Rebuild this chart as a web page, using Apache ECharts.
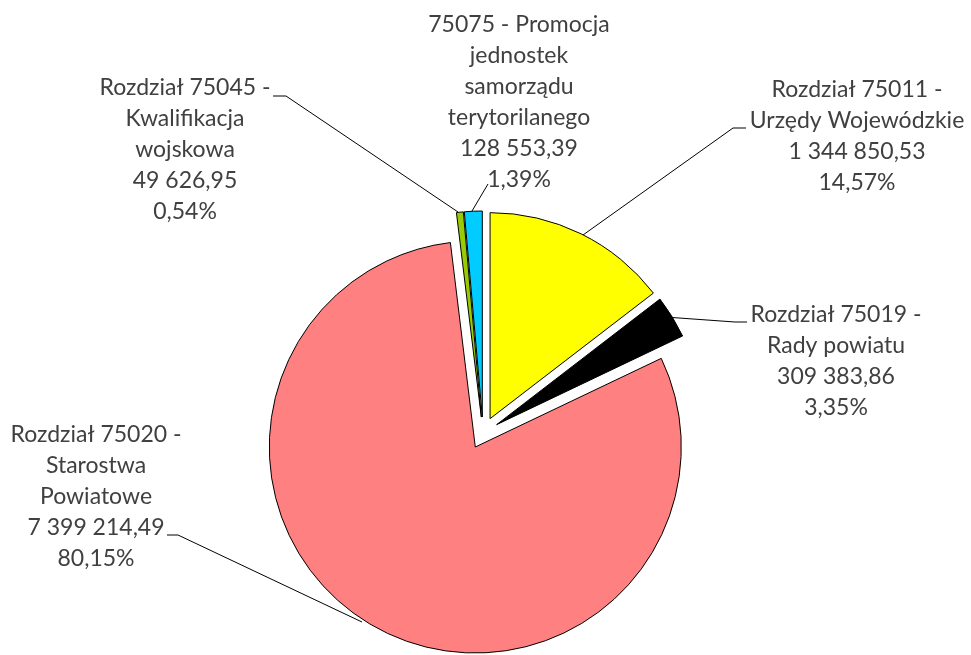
<!DOCTYPE html>
<html>
<head>
<meta charset="utf-8">
<script src="https://cdn.jsdelivr.net/npm/echarts@6/dist/echarts.min.js"></script>
<style>
  html, body { margin: 0; padding: 0; background: #fff; }
  #chart { width: 971px; height: 655px; }
</style>
</head>
<body>
<div id="chart"></div>
<script>
// data
const categories = [
  'Rozdział 75011 -\nUrzędy Wojewódzkie',
  'Rozdział 75019 -\nRady powiatu',
  'Rozdział 75020 -\nStarostwa\nPowiatowe',
  'Rozdział 75045 -\nKwalifikacja\nwojskowa',
  '75075 - Promocja\njednostek\nsamorządu\nterytorilanego'
];
const values = [1344850.53, 309383.86, 7399214.49, 49626.95, 128553.39];
const colors = ['#ffff00', '#000000', '#ff8080', '#99cc00', '#00ccff'];

// label placement (block centre) and leader lines
const labelPos = [[857, 136], [836, 361], [96, 497], [185, 150], [519, 102]];
const leaderLines = [
  [[583, 235], [733, 128], [746, 128]],
  [[665, 317], [735, 322], [747, 322]],
  [[362, 622], [178, 535], [167, 535]],
  [[458, 212], [286, 96], [273, 96]],
  [[472, 211], [488, 184]]
];

const CX = 483, CY = 433, R = 206, EXPLODE = 16;

const fmtNumber = (v) => {
  const parts = v.toFixed(2).split('.');
  return parts[0].replace(/\B(?=(\d{3})+(?!\d))/g, ' ') + ',' + parts[1];
};

const total = values.reduce((a, b) => a + b, 0);

const chart = echarts.init(document.getElementById('chart'), null, { renderer: 'canvas' });

// every slice is drawn by its own pie series, moved out along its mid angle
let acc = 0;
const series = values.map((v, i) => {
  const mid = (acc + v / 2) / total * Math.PI * 2;
  acc += v;
  const cx = CX + EXPLODE * Math.sin(mid);
  const cy = CY - EXPLODE * Math.cos(mid);
  return {
    type: 'pie',
    center: [cx, cy],
    radius: R,
    startAngle: 90,
    clockwise: true,
    silent: true,
    avoidLabelOverlap: false,
    emphasis: { disabled: true },
    label: {
      color: '#404040',
      fontFamily: 'Lato',
      fontSize: 23,
      lineHeight: 31,
      align: 'center',
      formatter: (p) => p.name + '\n' + fmtNumber(p.value) + '\n' + p.percent.toFixed(2).replace('.', ',') + '%'
    },
    labelLine: { lineStyle: { color: '#000', width: 1 } },
    labelLayout: (params) => ({
      x: labelPos[params.dataIndex][0],
      y: labelPos[params.dataIndex][1],
      align: 'center',
      verticalAlign: 'middle',
      labelLinePoints: leaderLines[params.dataIndex]
    }),
    data: categories.map((name, j) => ({
      name: name,
      value: values[j],
      itemStyle: j === i
        ? { color: colors[j], borderColor: '#000', borderWidth: 1 }
        : { color: 'rgba(0,0,0,0)', borderWidth: 0 },
      label: { show: j === i },
      labelLine: { show: j === i }
    }))
  };
});

chart.setOption({
  animation: false,
  backgroundColor: '#ffffff',
  series: series
});
</script>
</body>
</html>
